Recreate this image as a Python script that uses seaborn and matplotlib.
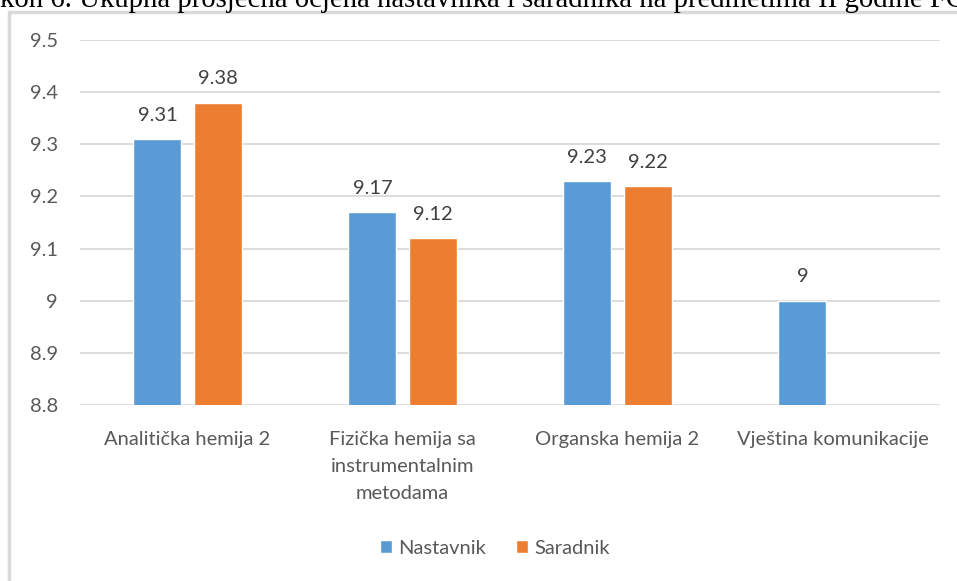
import pandas as pd
import numpy as np
import matplotlib.pyplot as plt
import seaborn as sns
from matplotlib.patches import Rectangle

# Podaci sa grafikona
predmeti = ['Analitička hemija 2',
            'Fizička hemija sa\ninstrumentalnim\nmetodama',
            'Organska hemija 2',
            'Vještina komunikacije']
nastavnik = [9.31, 9.17, 9.23, 9.00]
saradnik = [9.38, 9.12, 9.22, np.nan]
serije = ['Nastavnik', 'Saradnik']
y_ticks = [8.8, 8.9, 9.0, 9.1, 9.2, 9.3, 9.4, 9.5]

df = pd.DataFrame({
    'Predmet': predmeti * 2,
    'Ocjena': nastavnik + saradnik,
    'Uloga': ['Nastavnik'] * 4 + ['Saradnik'] * 4,
})

sns.set_theme(style='white')
plt.rcParams['font.family'] = ['Lato', 'DejaVu Sans']

fig = plt.figure(figsize=(9.57, 5.81), dpi=100)
ax = fig.add_axes([80 / 957, 1 - 405 / 581, 860 / 957, 365 / 581])

sns.barplot(data=df, x='Predmet', y='Ocjena', hue='Uloga', hue_order=serije,
            palette=['#5B9BD5', '#ED7D31'], saturation=1, width=0.56, gap=0.2,
            errorbar=None, ax=ax, legend=True)

ax.set_ylim(8.8, 9.5)
ax.set_yticks(y_ticks)
ax.set_yticklabels([f'{v:g}' for v in y_ticks])
ax.set_xlim(-0.5, 3.5)
ax.grid(axis='y', color='#D9D9D9', linewidth=1.3)
ax.set_axisbelow(True)
for s in ax.spines.values():
    s.set_visible(False)
ax.tick_params(axis='both', length=0, labelsize=14.5, labelcolor='#595959')
ax.tick_params(axis='x', pad=19)
ax.tick_params(axis='y', pad=16)
ax.set_xlabel('')
ax.set_ylabel('')
for lbl in ax.get_xticklabels():
    lbl.set_linespacing(1.7)

# Vrijednosti iznad stubova
for cont in ax.containers:
    ax.bar_label(cont, fmt='{:g}', padding=11, fontsize=14.5, color='#404040')

handles, labels = ax.get_legend_handles_labels()
ax.legend_.remove()
fig.legend(handles, labels, loc='center', bbox_to_anchor=(495 / 957, 1 - 548 / 581),
           ncol=2, frameon=False, fontsize=14.5, handlelength=0.6, handleheight=0.6,
           handletextpad=0.3, columnspacing=1.5, labelcolor='#595959')

# Okvir grafikona i odsječeni naslov iznad
fig.patches.append(Rectangle((9 / 957, -0.1), 1.2, 1 - 12 / 581 + 0.1,
                             transform=fig.transFigure, fill=False,
                             edgecolor='#D9D9D9', linewidth=2.5))
fig.text(0, 1 - 7 / 581,
         'kon 6. Ukupna prosječna ocjena nastavnika i saradnika na predmetima II godine FC',
         va='baseline', ha='left', fontsize=20.7, color='black',
         family=['Liberation Serif', 'DejaVu Serif'])

plt.savefig('out.png', dpi=100)
